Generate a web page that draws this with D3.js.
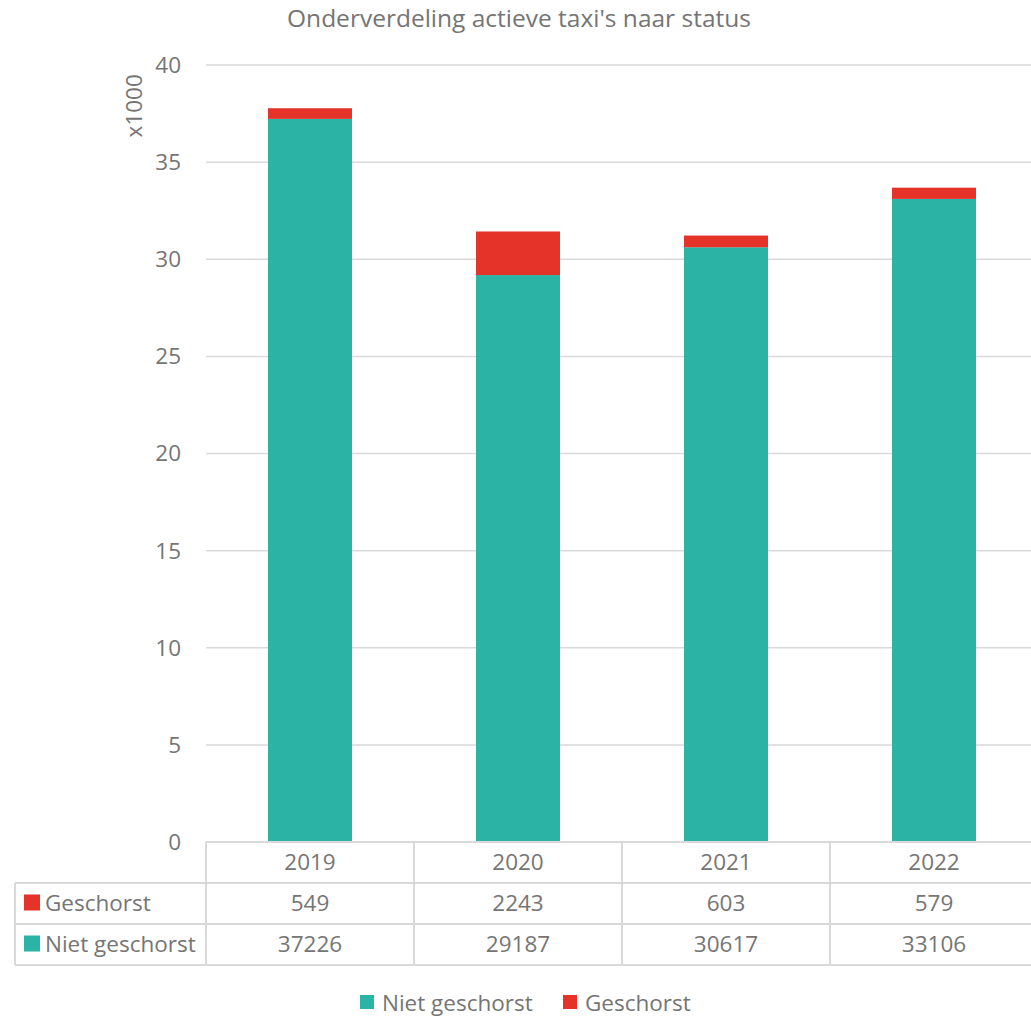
<!DOCTYPE html>
<html>
<head>
<meta charset="utf-8">
<script src="https://cdn.jsdelivr.net/npm/d3@7"></script>
<style>
  body { margin: 0; background: #fff; }
  text { font-family: "Open Sans", "Noto Sans", sans-serif; fill: #757575; }
</style>
</head>
<body>
<div id="chart"></div>
<script>
const years = ["2019", "2020", "2021", "2022"];
const nietGeschorst = [37226, 29187, 30617, 33106];
const geschorst = [549, 2243, 603, 579];
const yTicks = [0, 5, 10, 15, 20, 25, 30, 35, 40];

let width = 1031,
    height = 1017;
let plotLeft = 206, plotRight = 1038, plotTop = 65, plotBottom = 842;
let rowH = 41;
let gridColor = "#d9d9d9";
let teal = "#2bb3a6", red = "#e5332a";
let fs = "22.5px";

let svg = d3.select("#chart")
    .append("svg")
    .attr("width", width)
    .attr("height", height);

let x = d3.scaleBand()
    .domain(years)
    .range([plotLeft, plotRight])
    .paddingInner(0)
    .paddingOuter(0);

let y = d3.scaleLinear()
    .domain([0, 40])
    .range([plotBottom, plotTop]);

// title
svg.append("text")
    .attr("x", 519)
    .attr("y", 27)
    .attr("text-anchor", "middle")
    .style("font-size", "24.5px")
    .text("Onderverdeling actieve taxi's naar status");

// gridlines
svg.selectAll(".grid")
    .data(yTicks.filter(d => d > 0))
    .enter().append("line")
    .attr("class", "grid")
    .attr("x1", plotLeft)
    .attr("x2", width)
    .attr("y1", d => y(d))
    .attr("y2", d => y(d))
    .attr("stroke", gridColor)
    .attr("stroke-width", 1.5);

// y tick labels
svg.selectAll(".ytick")
    .data(yTicks)
    .enter().append("text")
    .attr("class", "ytick")
    .attr("x", 181)
    .attr("y", d => y(d))
    .attr("dy", "0.35em")
    .attr("text-anchor", "end")
    .style("font-size", fs)
    .text(d => d);

svg.append("text")
    .attr("transform", "translate(142," + y(37.9) + ") rotate(-90)")
    .attr("text-anchor", "middle")
    .style("font-size", fs)
    .text("x1000");

// stacked bars
let stackData = years.map((yr, i) => ({year: yr, niet: nietGeschorst[i] / 1000, gesch: geschorst[i] / 1000}));
let series = d3.stack().keys(["niet", "gesch"])(stackData);
let color = d3.scaleOrdinal().domain(["niet", "gesch"]).range([teal, red]);

let barW = 84;
svg.selectAll(".layer")
    .data(series)
    .enter().append("g")
    .attr("class", "layer")
    .attr("fill", d => color(d.key))
    .selectAll("rect")
    .data(d => d)
    .enter().append("rect")
    .attr("x", d => x(d.data.year) + x.bandwidth() / 2 - barW / 2)
    .attr("width", barW)
    .attr("y", d => y(d[1]))
    .attr("height", d => y(d[0]) - y(d[1]));

// data table
let tableLeft = 15;
let rows = [
    {label: "Geschorst", color: red, values: geschorst},
    {label: "Niet geschorst", color: teal, values: nietGeschorst}
];
let tbl = svg.append("g").attr("stroke", gridColor).attr("stroke-width", 2);

// horizontal lines
tbl.append("line").attr("x1", plotLeft).attr("x2", width).attr("y1", plotBottom).attr("y2", plotBottom);
[1, 2, 3].forEach(r => {
    tbl.append("line")
        .attr("x1", tableLeft).attr("x2", width)
        .attr("y1", plotBottom + r * rowH).attr("y2", plotBottom + r * rowH);
});
// vertical lines
years.forEach(yr => {
    tbl.append("line")
        .attr("x1", x(yr)).attr("x2", x(yr))
        .attr("y1", plotBottom).attr("y2", plotBottom + 3 * rowH);
});
tbl.append("line").attr("x1", tableLeft).attr("x2", tableLeft)
    .attr("y1", plotBottom + rowH).attr("y2", plotBottom + 3 * rowH);

// header years
svg.selectAll(".xlab")
    .data(years)
    .enter().append("text")
    .attr("class", "xlab")
    .attr("x", d => x(d) + x.bandwidth() / 2)
    .attr("y", plotBottom + rowH / 2)
    .attr("dy", "0.35em")
    .attr("text-anchor", "middle")
    .style("font-size", fs)
    .text(d => d);

rows.forEach((row, r) => {
    let cy = plotBottom + (r + 1) * rowH + rowH / 2;
    svg.append("rect")
        .attr("x", 24).attr("y", cy - 9)
        .attr("width", 16).attr("height", 16)
        .attr("fill", row.color);
    svg.append("text")
        .attr("x", 45).attr("y", cy)
        .attr("dy", "0.35em")
        .style("font-size", fs)
        .text(row.label);
    svg.selectAll(".val" + r)
        .data(row.values)
        .enter().append("text")
        .attr("x", (d, i) => x(years[i]) + x.bandwidth() / 2)
        .attr("y", cy)
        .attr("dy", "0.35em")
        .attr("text-anchor", "middle")
        .style("font-size", fs)
        .text(d => d);
});

// legend
let legend = [
    {label: "Niet geschorst", color: teal, x: 360},
    {label: "Geschorst", color: red, x: 563}
];
legend.forEach(l => {
    svg.append("rect")
        .attr("x", l.x).attr("y", 995)
        .attr("width", 14).attr("height", 14)
        .attr("fill", l.color);
    svg.append("text")
        .attr("x", l.x + 22).attr("y", 1003)
        .attr("dy", "0.35em")
        .style("font-size", fs)
        .text(l.label);
});
</script>
</body>
</html>
